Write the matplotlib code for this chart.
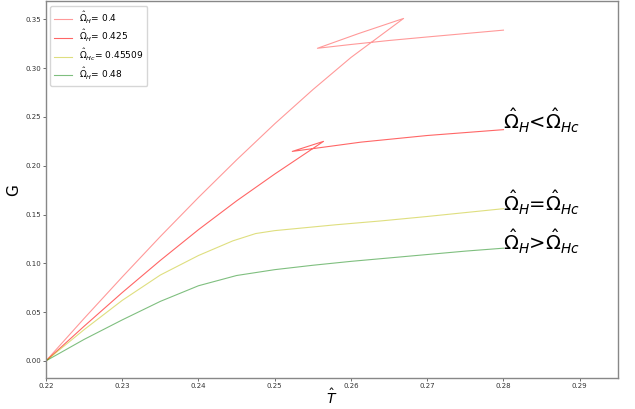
import matplotlib

matplotlib.use('Agg')
import matplotlib.pyplot as plt

# Omega_H = 0.4 : small branch, intermediate branch, large branch
t_04 = [0.220, 0.225, 0.230, 0.235, 0.240, 0.245, 0.250, 0.255, 0.260, 0.2669,
        0.2610, 0.2556,
        0.260, 0.265, 0.270, 0.275, 0.280]
g_04 = [0.000, 0.0435, 0.086, 0.1275, 0.1675, 0.206, 0.243, 0.278, 0.311, 0.351,
        0.3355, 0.3204,
        0.3243, 0.3284, 0.3320, 0.3355, 0.339]

# Omega_H = 0.425
t_0425 = [0.220, 0.225, 0.230, 0.235, 0.240, 0.245, 0.250, 0.2564,
          0.2523,
          0.2613, 0.270, 0.280]
g_0425 = [0.000, 0.0355, 0.070, 0.103, 0.1345, 0.164, 0.1915, 0.2250,
          0.2147,
          0.2242, 0.231, 0.237]

# Omega_Hc = 0.45509 (critical)
t_c = [0.220, 0.225, 0.230, 0.235, 0.240, 0.2445, 0.2475, 0.250, 0.252, 0.258,
       0.264, 0.270, 0.275, 0.280]
g_c = [0.000, 0.032, 0.062, 0.088, 0.108, 0.123, 0.1305, 0.1335, 0.135, 0.1395,
       0.1435, 0.148, 0.152, 0.156]

# Omega_H = 0.48
t_048 = [0.220, 0.225, 0.230, 0.235, 0.240, 0.245, 0.250, 0.255, 0.260, 0.265,
         0.270, 0.275, 0.280]
g_048 = [0.000, 0.022, 0.042, 0.061, 0.077, 0.0875, 0.0935, 0.098, 0.102, 0.1055,
         0.109, 0.1125, 0.1155]

fig = plt.figure(figsize=(6.35, 4.09), dpi=100)
ax = fig.add_axes([0.0724, 0.0758, 0.9006, 0.921])

ax.plot(t_04, g_04, color='r', alpha=0.4, lw=0.8, label=r'$\hat{\Omega}_H$= 0.4')
ax.plot(t_0425, g_0425, color='r', alpha=0.6, lw=0.8, label=r'$\hat{\Omega}_H$= 0.425')
ax.plot(t_c, g_c, color='y', alpha=0.5, lw=0.8, label=r'$\hat{\Omega}_{Hc}$= 0.45509')
ax.plot(t_048, g_048, color='g', alpha=0.5, lw=0.8, label=r'$\hat{\Omega}_H$= 0.48')

ax.text(0.28, 0.237, r'$\hat{\Omega}_H$<$\hat{\Omega}_{Hc}$', fontsize=14)
ax.text(0.28, 0.153, r'$\hat{\Omega}_H$=$\hat{\Omega}_{Hc}$', fontsize=14)
ax.text(0.28, 0.113, r'$\hat{\Omega}_H$>$\hat{\Omega}_{Hc}$', fontsize=14)

ax.set_xlim(0.22, 0.295)
ax.set_xticks([0.22, 0.23, 0.24, 0.25, 0.26, 0.27, 0.28, 0.29])
ax.set_xticklabels(['0.22', '0.23', '0.24', '0.25', '0.26', '0.27', '0.28', '0.29'])
ax.tick_params(labelsize=5, length=2, width=0.6, pad=1.5,
               color='#555555', labelcolor='#333333')
for s in ax.spines.values():
    s.set_color('#888888')
    s.set_linewidth(1.0)

ax.set_xlabel(r'$\hat{T}$', fontsize=10, labelpad=-1)
ax.set_ylabel('G', fontsize=11, labelpad=3)

ax.legend(loc='upper left', fontsize=6.5, handlelength=2.0, labelspacing=0.3)

fig.savefig('out.png', dpi=100)
